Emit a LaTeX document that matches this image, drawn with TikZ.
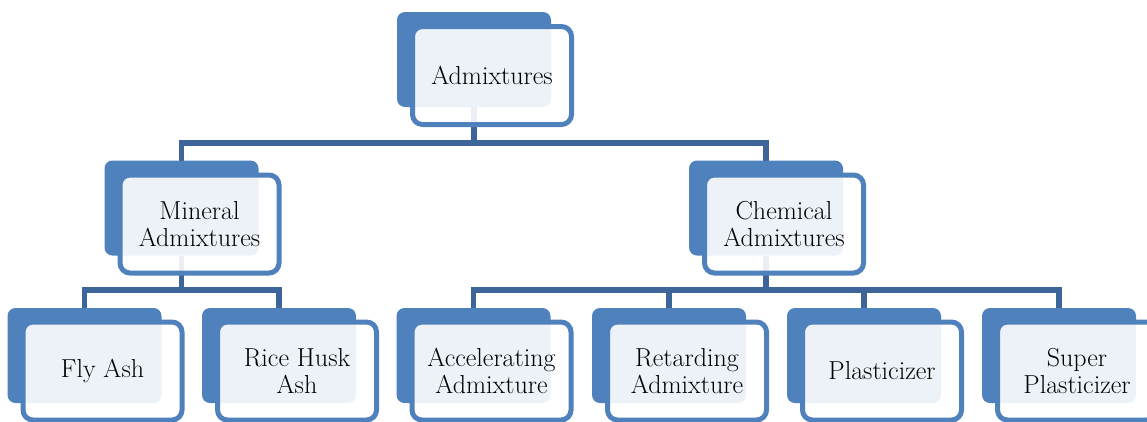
\documentclass[tikz,border=0pt]{standalone}
\usetikzlibrary{backgrounds}
\definecolor{accent}{RGB}{79,129,189}
\definecolor{connc}{RGB}{61,101,153}
\begin{document}
\begin{tikzpicture}[x=1pt,y=-1pt,
  back/.style={fill=accent, rounded corners=8pt, minimum width=154pt, minimum height=95pt, inner sep=0pt, outer sep=0pt},
  front/.style={draw=accent, line width=5pt, fill=white, fill opacity=0.9, text opacity=1, text=black, rounded corners=10pt, minimum width=159pt, minimum height=98pt, inner sep=0pt, outer sep=0pt, align=center, font=\fontsize{26}{27}\selectfont},
  conn/.style={draw=connc, line width=5.5pt}]
\useasboundingbox (0,0) rectangle (1147,421);
% top
\node[back] (b0) at (474,59.5) {};
\node[front] (f0) at (492,75.5) {Admixtures};
% middle
\node[back] (b1) at (181.5,208) {};
\node[front] (f1) at (199.5,224) {Mineral\\Admixtures};
\node[back] (b2) at (766,208) {};
\node[front] (f2) at (784,224) {Chemical\\Admixtures};
% bottom
\node[back] (c1) at (84.5,355.5) {};
\node[front] (g1) at (102.5,371) {Fly Ash};
\node[back] (c2) at (279,355.5) {};
\node[front] (g2) at (297,371) {Rice Husk\\Ash};
\node[back] (c3) at (473.5,355.5) {};
\node[front] (g3) at (491.5,371) {Accelerating\\Admixture};
\node[back] (c4) at (669,355.5) {};
\node[front] (g4) at (687,371) {Retarding\\Admixture};
\node[back] (c5) at (864,355.5) {};
\node[front] (g5) at (882,371) {Plasticizer};
\node[back] (c6) at (1059,355.5) {};
\node[front] (g6) at (1077,371) {Super\\Plasticizer};
% connectors
\begin{scope}[on background layer]
  \fill[white] (0,0) rectangle (1147,421);
  \coordinate (h0) at (0,143);
  \coordinate (h1) at (0,290);
  \draw[conn] (b0.south) -- (b0.south |- h0);
  \draw[conn] (b1.north) |- (b2.north |- h0) -- (b2.north);
  \draw[conn] (b1.south) -- (b1.south |- h1);
  \draw[conn] (c1.north) |- (c2.north |- h1) -- (c2.north);
  \draw[conn] (b2.south) -- (b2.south |- h1);
  \draw[conn] (c3.north) |- (c6.north |- h1) -- (c6.north);
  \draw[conn] (c4.north) -- (c4.north |- h1);
  \draw[conn] (c5.north) -- (c5.north |- h1);
\end{scope}
\end{tikzpicture}
\end{document}
